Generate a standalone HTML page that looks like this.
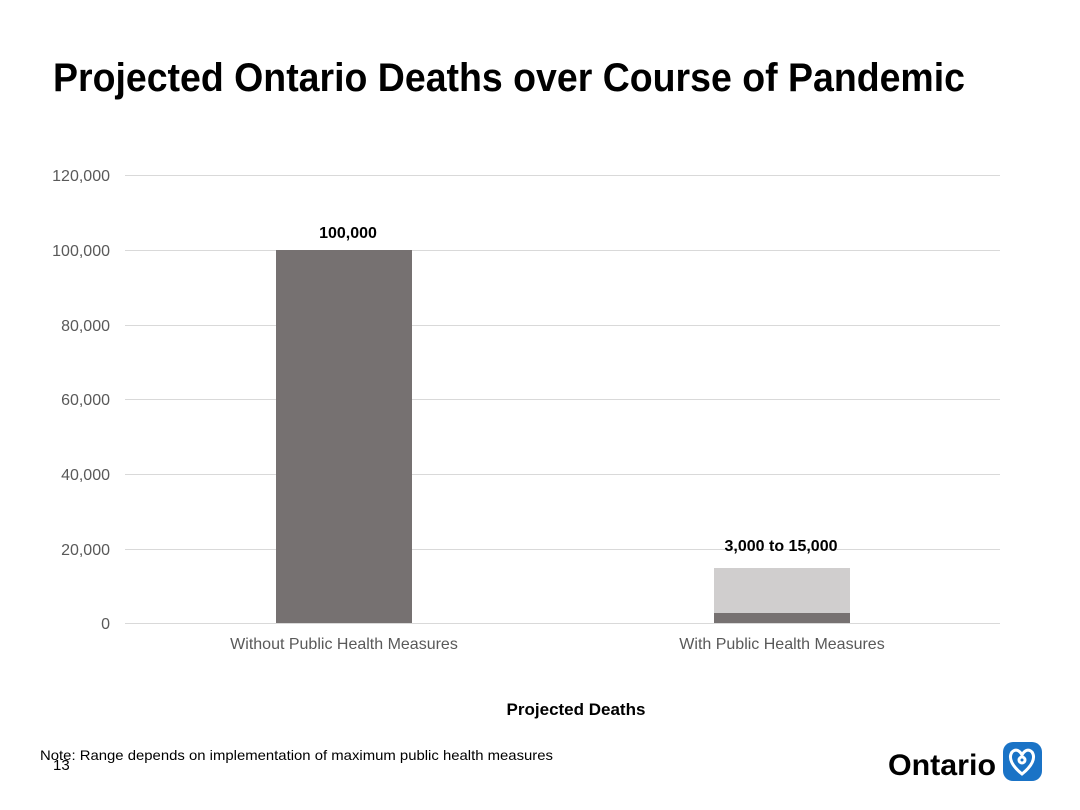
<!DOCTYPE html>
<html><head><meta charset="utf-8"><style>
html,body{margin:0;padding:0;background:#fff;}
svg{display:block;}
</style></head><body>
<svg width="1080" height="810" viewBox="0 0 1080 810" xmlns="http://www.w3.org/2000/svg" font-family="Liberation Sans, Arial, sans-serif">
<rect width="1080" height="810" fill="#fff"/>
<text x="53" y="91" font-size="40" font-weight="bold" fill="#000" textLength="912" lengthAdjust="spacingAndGlyphs">Projected Ontario Deaths over Course of Pandemic</text>
<g stroke="#d9d9d9" stroke-width="1">
<line x1="125" y1="175.5" x2="1000" y2="175.5"/>
<line x1="125" y1="250.5" x2="1000" y2="250.5"/>
<line x1="125" y1="325.5" x2="1000" y2="325.5"/>
<line x1="125" y1="399.5" x2="1000" y2="399.5"/>
<line x1="125" y1="474.5" x2="1000" y2="474.5"/>
<line x1="125" y1="549.5" x2="1000" y2="549.5"/>
<line x1="125" y1="623.5" x2="1000" y2="623.5"/>
</g>
<g font-size="16" fill="#595959" text-anchor="end">
<text x="110" y="181">120,000</text>
<text x="110" y="256">100,000</text>
<text x="110" y="331">80,000</text>
<text x="110" y="405">60,000</text>
<text x="110" y="480">40,000</text>
<text x="110" y="555">20,000</text>
<text x="110" y="629">0</text>
</g>
<rect x="276" y="250" width="136" height="373" fill="#767171"/>
<rect x="714" y="568" width="136" height="45" fill="#d0cece"/>
<rect x="714" y="613" width="136" height="10" fill="#767171"/>
<g font-size="16" font-weight="bold" fill="#000" text-anchor="middle">
<text x="348" y="238">100,000</text>
<text x="781" y="551">3,000 to 15,000</text>
<text x="576" y="715" font-size="17">Projected Deaths</text>
</g>
<g font-size="16" fill="#595959" text-anchor="middle">
<text x="344" y="649">Without Public Health Measures</text>
<text x="782" y="649">With Public Health Measures</text>
</g>
<text x="53" y="770" font-size="15" fill="#000">13</text>
<text x="40" y="760" font-size="14" fill="#000" textLength="513" lengthAdjust="spacingAndGlyphs">Note: Range depends on implementation of maximum public health measures</text>
<text x="888" y="775" font-size="30" font-weight="bold" fill="#000" textLength="108" lengthAdjust="spacingAndGlyphs">Ontario</text>
<rect x="1003" y="742" width="39" height="39" rx="10" fill="#1a73c6"/>
<g fill="none" stroke="#fff" stroke-width="3">
<path d="M1022 774 C1012 766 1008 758 1012 752 C1016 748 1020 751 1022 755 C1024 751 1028 748 1032 752 C1036 758 1032 766 1022 774 Z"/>
<circle cx="1022" cy="760" r="3"/>
</g>
</svg>
</body></html>
